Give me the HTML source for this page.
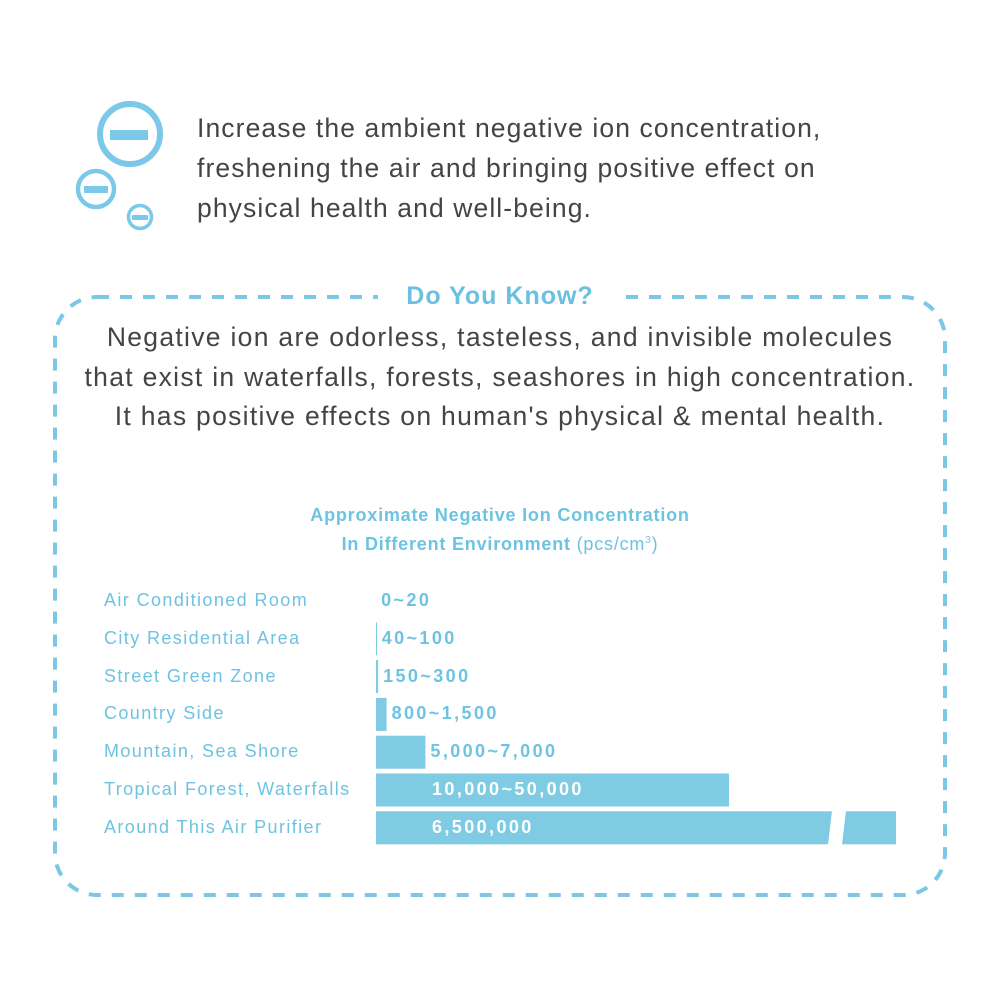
<!DOCTYPE html>
<html><head><meta charset="utf-8"><style>
body{margin:0;background:#fff;width:1000px;height:1000px;overflow:hidden;position:relative;font-family:"Liberation Sans",sans-serif}
.t{position:absolute;white-space:nowrap}
</style></head><body>
<svg width="1000" height="1000" style="position:absolute;left:0;top:0">
  <g fill="none" stroke="#7cc8e8">
    <circle cx="130" cy="134" r="30" stroke-width="6"/>
    <rect x="110" y="130" width="38" height="10" fill="#7cc8e8" stroke="none"/>
    <circle cx="96" cy="189" r="18" stroke-width="4.5"/>
    <rect x="84" y="186" width="24" height="7" fill="#7cc8e8" stroke="none"/>
    <circle cx="140" cy="217" r="11.5" stroke-width="3.5"/>
    <rect x="132" y="215" width="16" height="5" fill="#7cc8e8" stroke="none"/>
  </g>
  <rect x="55" y="297" width="890" height="598" rx="42" fill="none" stroke="#7cc8e4" stroke-width="4" stroke-dasharray="12 11"/>
  <rect x="378" y="282" width="238" height="30" fill="#fff"/>
</svg>
<div class="t" style="left:197px;top:108px;font-size:26.5px;line-height:40px;color:#444;letter-spacing:1.1px">Increase the ambient negative ion concentration,<br>freshening the air and bringing positive effect on<br>physical health and well-being.</div>
<div class="t" style="left:0;width:1000px;text-align:center;top:282px;font-size:25px;font-weight:bold;color:#6bbfe0;letter-spacing:1px">Do You Know?</div>
<div class="t" style="left:0;width:1000px;text-align:center;top:318px;font-size:26.5px;line-height:39.5px;color:#444;letter-spacing:1.3px">Negative ion are odorless, tasteless, and invisible molecules<br>that exist in waterfalls, forests, seashores in high concentration.<br>It has positive effects on human's physical &amp; mental health.</div>
<div class="t" style="left:0;width:1000px;text-align:center;top:502px;font-size:18px;line-height:26px;color:#6dc3e1;font-weight:bold;letter-spacing:0.8px">Approximate Negative Ion Concentration<br>In Different Environment <span style="font-weight:normal">(pcs/cm<sup style="font-size:10px">3</sup>)</span></div>
<div id="chart"></div>
<script>
const categories=["Air Conditioned Room","City Residential Area","Street Green Zone","Country Side","Mountain, Sea Shore","Tropical Forest, Waterfalls","Around This Air Purifier"];
const valueLabels=["0~20","40~100","150~300","800~1,500","5,000~7,000","10,000~50,000","6,500,000"];
const values=[20,100,300,1500,7000,50000,6500000];
const x0=376,scale=353/50000,capW=520;
function xw(v){return Math.min(v*scale,capW);}
function yc(i){return 601+i*37.8;}
const c=document.getElementById('chart');
let svg='<svg width="1000" height="1000" style="position:absolute;left:0;top:0">';
values.forEach((v,i)=>{const w=xw(v);if(w>=0.5)svg+='<rect x="'+x0+'" y="'+(yc(i)-16.5)+'" width="'+Math.max(w,1)+'" height="33" fill="#7fcbe4"/>';
 if(v*scale>capW){svg+='<polygon points="'+(x0+w-64)+','+(yc(i)-17)+' '+(x0+w-50)+','+(yc(i)-17)+' '+(x0+w-54)+','+(yc(i)+17)+' '+(x0+w-68)+','+(yc(i)+17)+'" fill="#fff"/>';}});
svg+='</svg>';
c.innerHTML=svg;
categories.forEach((n,i)=>{const d=document.createElement('div');d.className='t';


d.style.cssText='left:104px;top:'+(yc(i)-11)+'px;font-size:18px;color:#6dc3e1;letter-spacing:1.4px';d.textContent=n;c.appendChild(d);
const w=xw(values[i]);const inside=w>60;const l=document.createElement('div');l.className='t';


l.style.cssText='left:'+(inside?432:x0+w+5)+'px;top:'+(yc(i)-11)+'px;font-size:18px;font-weight:bold;letter-spacing:2.4px;color:'+(inside?'#fff':'#6dc3e1');l.textContent=valueLabels[i];c.appendChild(l);});
</script>
</body></html>
